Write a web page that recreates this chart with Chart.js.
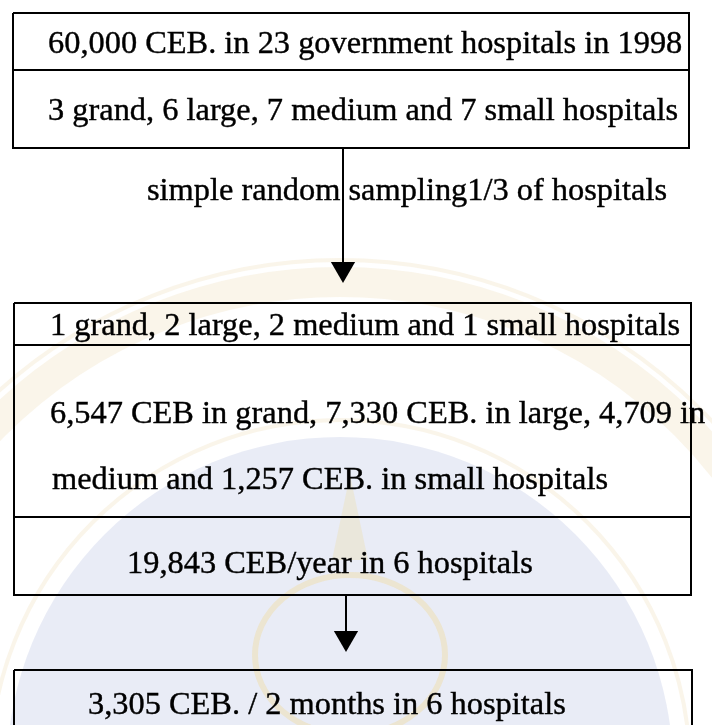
<!DOCTYPE html>
<html>
<head>
<meta charset="utf-8">
<script src="https://cdn.jsdelivr.net/npm/chart.js@4.4.1/dist/chart.umd.min.js"></script>
<style>
  html, body { margin: 0; padding: 0; background: #fff; }
  #wrap { width: 712px; height: 725px; position: relative; }
</style>
</head>
<body>
<div id="wrap"><canvas id="flow"></canvas></div>
<script>
"use strict";
// texts of the flow chart
const populationLines = ['60,000 CEB. in 23 government hospitals in 1998', '3 grand, 6 large, 7 medium and 7 small hospitals'];
const samplingLabel = 'simple random sampling1/3 of hospitals';
const sampleLines = [
    '1 grand, 2 large, 2 medium and 1 small hospitals',
    '6,547 CEB in grand, 7,330 CEB. in large, 4,709 in',
    'medium and 1,257 CEB. in small hospitals',
    '19,843 CEB/year in 6 hospitals'
];
const studyLines = ['3,305 CEB. / 2 months in 6 hospitals'];

// layout, page pixels with y going down
const boxes = [
    {left: 13, right: 689, top: 13, bottom: 148, rows: [70]},
    {left: 14, right: 691, top: 303, bottom: 595, rows: [345, 517]},
    {left: 14, right: 692, top: 670, bottom: 760, rows: []}
];
const arrows = [
    {x: 343, from: 148, to: 283},
    {x: 346, from: 595, to: 652}
];
const headSize = 14;
const textSpots = [
    {text: populationLines[0], x: 48, y: 53},
    {text: populationLines[1], x: 48, y: 120},
    {text: samplingLabel, x: 147, y: 200},
    {text: sampleLines[0], x: 50, y: 335},
    {text: sampleLines[1], x: 50, y: 423},
    {text: sampleLines[2], x: 52, y: 489},
    {text: sampleLines[3], x: 127, y: 573},
    {text: studyLines[0], x: 88, y: 714}
];

let datasets = [];
function segment(points) {
    datasets.push({
        data: points,
        showLine: true,
        borderColor: '#000',
        borderWidth: 2,
        pointRadius: 0,
        tension: 0
    });
}
for (let i = 0; i < boxes.length; i++) {
    let b = boxes[i];
    segment([
        {x: b.left, y: b.top}, {x: b.right, y: b.top}, {x: b.right, y: b.bottom},
        {x: b.left, y: b.bottom}, {x: b.left, y: b.top}
    ]);
    for (let j = 0; j < b.rows.length; j++) {
        segment([{x: b.left, y: b.rows[j]}, {x: b.right, y: b.rows[j]}]);
    }
}
for (let i = 0; i < arrows.length; i++) {
    let a = arrows[i];
    segment([{x: a.x, y: a.from}, {x: a.x, y: a.to - headSize}]);
    datasets.push({
        data: [{x: a.x, y: a.to - headSize}],
        showLine: false,
        pointStyle: 'triangle',
        rotation: 180,
        pointRadius: headSize,
        backgroundColor: '#000',
        borderColor: '#000',
        borderWidth: 0
    });
}

// faint emblem in the scan background
const watermark = {
    id: 'watermark',
    beforeDatasetsDraw(chart) {
        const ctx = chart.ctx;
        const sx = chart.scales.x, sy = chart.scales.y;
        const px = v => sx.getPixelForValue(v), py = v => sy.getPixelForValue(v);
        const unit = px(1) - px(0);
        const cx = px(340), cy = py(770);
        ctx.save();
        ctx.beginPath();
        ctx.arc(cx, cy, 333 * unit, 0, Math.PI * 2);
        ctx.fillStyle = 'rgba(226,229,243,0.75)';
        ctx.fill();
        ctx.strokeStyle = 'rgba(245,236,214,0.5)';
        ctx.lineWidth = 30 * unit;
        ctx.beginPath();
        ctx.arc(cx, cy, 488 * unit, 0, Math.PI * 2);
        ctx.stroke();
        ctx.lineWidth = 4 * unit;
        ctx.beginPath();
        ctx.arc(cx, cy, 510 * unit, 0, Math.PI * 2);
        ctx.stroke();
        ctx.beginPath();
        ctx.arc(cx, cy, 350 * unit, 0, Math.PI * 2);
        ctx.stroke();
        // pale crown
        ctx.strokeStyle = 'rgba(240,215,140,0.35)';
        ctx.fillStyle = 'rgba(240,215,140,0.25)';
        ctx.lineWidth = 6 * unit;
        ctx.beginPath();
        ctx.ellipse(px(350), py(655), 95 * unit, 80 * unit, 0, 0, Math.PI * 2);
        ctx.stroke();
        ctx.beginPath();
        ctx.moveTo(px(350), py(475));
        ctx.lineTo(px(332), py(560));
        ctx.lineTo(px(368), py(560));
        ctx.closePath();
        ctx.fill();
        ctx.restore();
    }
};

const boxText = {
    id: 'boxText',
    afterDatasetsDraw(chart) {
        const ctx = chart.ctx;
        const sx = chart.scales.x, sy = chart.scales.y;
        ctx.save();
        ctx.font = '32.4px "Liberation Serif", "Times New Roman", serif';
        ctx.fillStyle = '#000';
        ctx.strokeStyle = '#000';
        ctx.lineWidth = 0.4;
        ctx.textAlign = 'left';
        ctx.textBaseline = 'alphabetic';
        for (let i = 0; i < textSpots.length; i++) {
            let t = textSpots[i];
            ctx.fillText(t.text, sx.getPixelForValue(t.x), sy.getPixelForValue(t.y));
            ctx.strokeText(t.text, sx.getPixelForValue(t.x), sy.getPixelForValue(t.y));
        }
        ctx.restore();
    }
};

const config = {
    type: 'scatter',
    data: {datasets: datasets},
    options: {
        responsive: true,
        maintainAspectRatio: false,
        animation: false,
        layout: {padding: 0, autoPadding: false},
        plugins: {legend: {display: false}, tooltip: {enabled: false}},
        scales: {
            x: {type: 'linear', min: 0, max: 712, display: false},
            y: {type: 'linear', min: 0, max: 725, reverse: true, display: false}
        }
    },
    plugins: [watermark, boxText]
};
new Chart(document.getElementById('flow'), config);
</script>
</body>
</html>
